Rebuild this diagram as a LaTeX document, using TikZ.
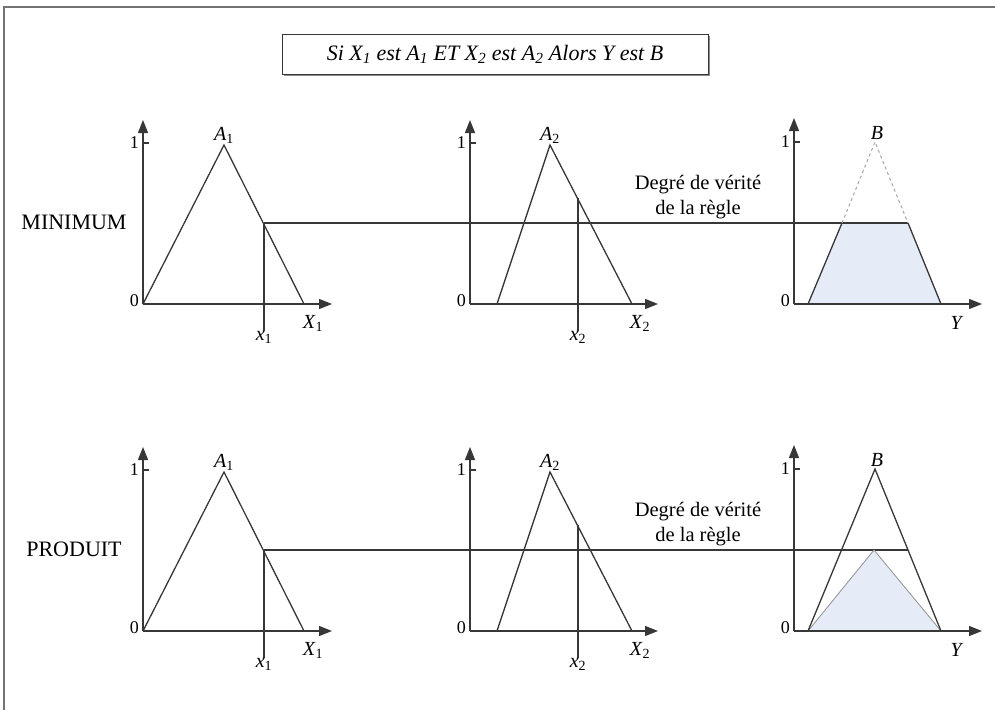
\documentclass[tikz,border=0pt]{standalone}
\usepackage{fontspec}
\setmainfont{Liberation Serif}
\usetikzlibrary{arrows.meta,shadows,backgrounds}
\definecolor{linegray}{RGB}{55,55,55}
\definecolor{paleblue}{RGB}{229,236,247}
\newcommand{\sym}[2]{\textit{#1}\textsubscript{#2}}

\begin{document}
\begin{tikzpicture}[x=1pt,y=-1pt,
  axis/.style={draw=linegray, line width=1.3pt, -{Triangle[length=13pt,width=10pt]}},
  memb/.style={draw=linegray, line width=1.3pt},
  cut/.style={draw=linegray, line width=1.3pt},
  lab/.style={font=\fontsize{20}{22}\selectfont, inner sep=1pt},
  num/.style={font=\fontsize{18}{20}\selectfont, inner sep=1pt},
  rowname/.style={font=\fontsize{22}{24}\selectfont}
]
\useasboundingbox (0,0) rectangle (995,710);

% cadre
\coordinate (fa) at (4,710);
\coordinate (fb) at (4,7);
\coordinate (fc) at (995,7);
\draw[black!55, line width=2pt] (fa) -- (fb) -- (fc);

% regle
\node[draw=linegray, line width=1pt, fill=white,
  drop shadow={shadow xshift=2pt, shadow yshift=-2pt, fill=black!45, opacity=1},
  minimum width=426, minimum height=40, font=\itshape\fontsize{22}{24}\selectfont]
  (rule) at (495,54) {Si \sym{X}{1} est \sym{A}{1} ET \sym{X}{2} est \sym{A}{2} Alors \textit{Y} est \textit{B}};

\foreach \row/\oy/\name in {min/304/MINIMUM, prod/631/PRODUIT} {
  \node[rowname] (name-\row) at (74,\oy-82) {\name};

  % X1
  \coordinate (o1-\row) at (143,\oy);
  \coordinate (t1-\row) at (143,\oy-184);
  \coordinate (e1-\row) at (332,\oy);
  \coordinate (p1-\row) at (224,\oy-159);
  \coordinate (r1-\row) at (304,\oy);
  \coordinate (c1-\row) at (264,\oy-81);
  \coordinate (d1-\row) at (264,\oy+27);
  \draw[axis] (o1-\row) -- (t1-\row);
  \draw[axis] (o1-\row) -- (e1-\row);
  \draw[memb] (o1-\row) -- (p1-\row) -- (r1-\row);
  \draw[cut] (c1-\row) -- (d1-\row);
  \draw[memb] (143,\oy-161) -- ++(6,0);
  \node[num, anchor=east] (one1-\row) at (140,\oy-161) {1};
  \node[num, anchor=east] (zero1-\row) at (140,\oy-3) {0};
  \node[lab, anchor=south] (A1-\row) at (p1-\row) {\sym{A}{1}};
  \node[lab] (X1-\row) at (313,\oy+19) {\sym{X}{1}};
  \node[lab, anchor=north, inner sep=0pt] (x1-\row) at (d1-\row) {\sym{x}{1}};

  % X2
  \coordinate (o2-\row) at (470,\oy);
  \coordinate (t2-\row) at (470,\oy-184);
  \coordinate (e2-\row) at (658,\oy);
  \coordinate (l2-\row) at (497,\oy);
  \coordinate (p2-\row) at (550,\oy-159);
  \coordinate (r2-\row) at (632,\oy);
  \coordinate (c2-\row) at (578,\oy-106);
  \coordinate (d2-\row) at (578,\oy+27);
  \draw[axis] (o2-\row) -- (t2-\row);
  \draw[axis] (o2-\row) -- (e2-\row);
  \draw[memb] (l2-\row) -- (p2-\row) -- (r2-\row);
  \draw[cut] (c2-\row) -- (d2-\row);
  \draw[memb] (470,\oy-161) -- ++(6,0);
  \node[num, anchor=east] (one2-\row) at (467,\oy-161) {1};
  \node[num, anchor=east] (zero2-\row) at (467,\oy-3) {0};
  \node[lab, anchor=south] (A2-\row) at (p2-\row) {\sym{A}{2}};
  \node[lab] (X2-\row) at (640,\oy+19) {\sym{X}{2}};
  \node[lab, anchor=north, inner sep=0pt] (x2-\row) at (d2-\row) {\sym{x}{2}};

  % Y
  \coordinate (o3-\row) at (794,\oy);
  \coordinate (t3-\row) at (794,\oy-186);
  \coordinate (e3-\row) at (982,\oy);
  \coordinate (b0-\row) at (808,\oy);
  \coordinate (bp-\row) at (875,\oy-162);
  \coordinate (b1-\row) at (941,\oy);
  \coordinate (bl-\row) at (842,\oy-81);
  \coordinate (br-\row) at (908,\oy-81);
  \coordinate (bm-\row) at (874,\oy-81);
  \draw[axis] (o3-\row) -- (t3-\row);
  \draw[axis] (o3-\row) -- (e3-\row);
  \draw[memb] (794,\oy-162) -- ++(6,0);
  \node[num, anchor=east] (one3-\row) at (791,\oy-162) {1};
  \node[num, anchor=east] (zero3-\row) at (791,\oy-3) {0};
  \node[lab, anchor=south] (B-\row) at (877,\oy-163) {\textit{B}};
  \node[lab] (Y-\row) at (957,\oy+19) {\textit{Y}};

  % degre
  \draw[cut] (c1-\row) -- (br-\row);
  \node[lab, align=center, font=\fontsize{20.5}{25}\selectfont] (deg-\row) at (698,\oy-107)
    {Degré de vérité\\de la règle};
}

% conclusion MINIMUM
\begin{scope}[on background layer]
  \fill[paleblue] (b0-min) -- (bl-min) -- (br-min) -- (b1-min) -- cycle;
  \fill[paleblue] (b0-prod) -- (bm-prod) -- (b1-prod) -- cycle;
\end{scope}
\draw[memb] (b0-min) -- (bl-min);
\draw[memb] (br-min) -- (b1-min);
\draw[black!35, dashed, line width=1pt] (bl-min) -- (bp-min) -- (br-min);

% conclusion PRODUIT
\draw[black!40, line width=0.9pt] (b0-prod) -- (bm-prod) -- (b1-prod);
\draw[memb] (b0-prod) -- (bp-prod) -- (b1-prod);
\end{tikzpicture}
\end{document}
